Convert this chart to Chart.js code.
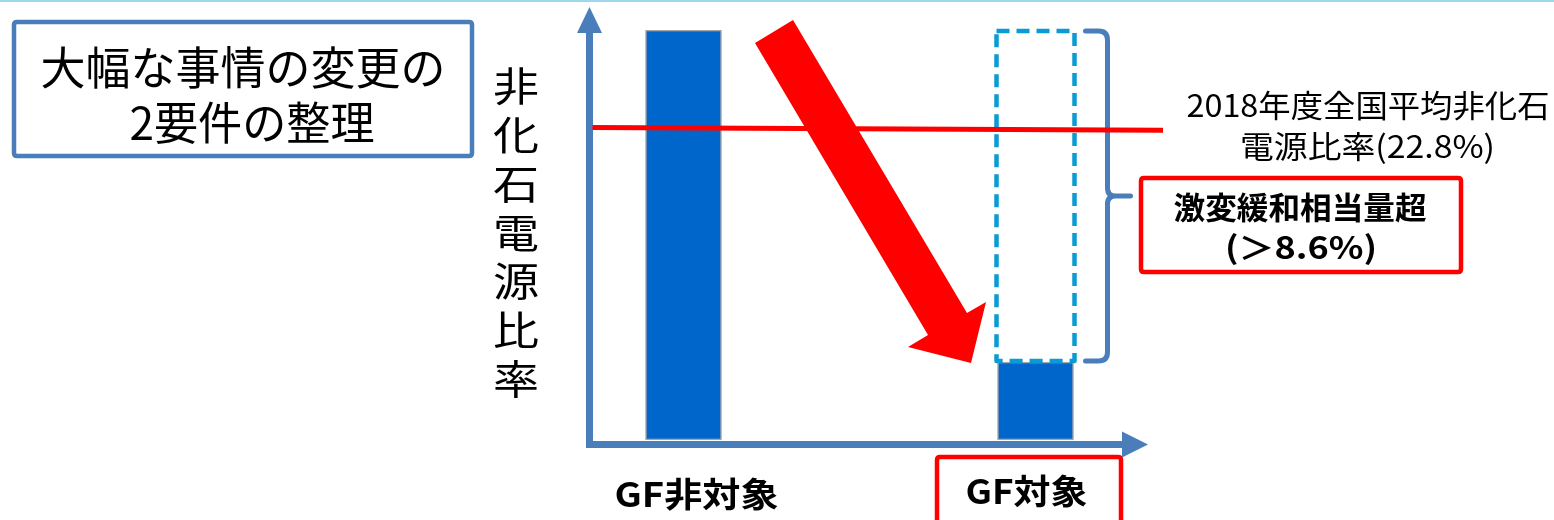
<!DOCTYPE html>
<html lang="ja">
<head>
<meta charset="utf-8">
<script src="https://cdn.jsdelivr.net/npm/chart.js@4.4.1/dist/chart.umd.min.js"></script>
<style>
  html, body { margin: 0; padding: 0; background: #ffffff; }
  #wrap { width: 1554px; height: 520px; position: relative; }
</style>
</head>
<body>
<div id="wrap"><canvas id="c" width="1554" height="520"></canvas></div>
<script>
// ---- data ----
const categories = ['GF非対象', 'GF対象'];
const ratioValues = [30, 5.7];            // solid bars (非化石電源比率, schematic)
const reliefRange = [null, [5.7, 30]];    // dashed "激変緩和相当量" segment
const nationalAverage = 22.8;             // 2018年度全国平均非化石電源比率 (%)
const reliefThreshold = 8.6;              // 激変緩和相当量超 (%)
const yMin = 0, yMax = 30;
const titleLines = ['大幅な事情の変更の', '2要件の整理'];
const yTitle = '非化石電源比率';
const avgLabel = ['2018年度全国平均非化石', '電源比率(' + nationalAverage + '%)'];
const reliefLabel = ['激変緩和相当量超', '(＞' + reliefThreshold + '%)'];

const JP = '"Noto Sans CJK JP", "Noto Sans", sans-serif';
const AXIS = '#4a7ebb';

function drawScaled(ctx, text, cx, cy, font, width, color) {
  ctx.save();
  ctx.font = font;
  ctx.fillStyle = color;
  ctx.textAlign = 'center';
  ctx.textBaseline = 'middle';
  const w = ctx.measureText(text).width;
  ctx.translate(cx, cy);
  ctx.scale(width / w, 1);
  ctx.fillText(text, 0, 0);
  ctx.restore();
}

function roundRect(ctx, x, y, w, h, r) {
  ctx.beginPath();
  ctx.moveTo(x + r, y);
  ctx.lineTo(x + w - r, y);
  ctx.quadraticCurveTo(x + w, y, x + w, y + r);
  ctx.lineTo(x + w, y + h - r);
  ctx.quadraticCurveTo(x + w, y + h, x + w - r, y + h);
  ctx.lineTo(x + r, y + h);
  ctx.quadraticCurveTo(x, y + h, x, y + h - r);
  ctx.lineTo(x, y + r);
  ctx.quadraticCurveTo(x, y, x + r, y);
  ctx.closePath();
}

const decor = {
  id: 'decor',
  beforeDraw(chart) {
    const ctx = chart.ctx;
    ctx.save();
    ctx.fillStyle = '#ffffff';
    ctx.fillRect(0, 0, chart.width, chart.height);
    ctx.fillStyle = '#9fd8ee';
    ctx.fillRect(0, 0, chart.width, 2);
    ctx.restore();
  },
  afterDatasetsDraw(chart) {
    const ctx = chart.ctx;
    const xs = chart.scales.x, ys = chart.scales.y;
    const zeroY = ys.getPixelForValue(0);
    const axisX = chart.chartArea.left + 82;

    ctx.save();
    // dashed relief segment
    const dMeta = chart.getDatasetMeta(1);
    dMeta.data.forEach((el, i) => {
      if (!reliefRange[i]) return;
      const p = el.getProps(['x', 'y', 'base', 'width'], true);
      const top = Math.min(p.y, p.base), bot = Math.max(p.y, p.base);
      ctx.strokeStyle = '#0a9bd5';
      ctx.lineWidth = 4.5;
      ctx.setLineDash([13, 7]);
      ctx.lineJoin = 'round';
      ctx.strokeRect(p.x - p.width / 2 - 1, top + 1, p.width + 2, bot - top - 2);
      ctx.setLineDash([]);

      // brace
      const bx = p.x + p.width / 2 + 34;
      const mid = ys.getPixelForValue((reliefRange[i][0] + reliefRange[i][1]) / 2);
      const r = 9;
      ctx.strokeStyle = AXIS;
      ctx.lineWidth = 5;
      ctx.lineCap = 'round';
      ctx.beginPath();
      ctx.moveTo(bx - 22, top + 1);
      ctx.lineTo(bx - r, top + 1);
      ctx.quadraticCurveTo(bx, top + 1, bx, top + 1 + r);
      ctx.lineTo(bx, mid - 8);
      ctx.quadraticCurveTo(bx, mid, bx + 8, mid);
      ctx.lineTo(bx + 23, mid);
      ctx.moveTo(bx + 8, mid);
      ctx.quadraticCurveTo(bx, mid, bx, mid + 8);
      ctx.lineTo(bx, bot - 1 - r);
      ctx.quadraticCurveTo(bx, bot - 1, bx - r, bot - 1);
      ctx.lineTo(bx - 22, bot - 1);
      ctx.stroke();
    });

    // axes with arrowheads
    ctx.fillStyle = AXIS;
    ctx.fillRect(axisX - 3.5, 30, 7, zeroY + 8 - 30);
    ctx.beginPath();
    ctx.moveTo(axisX, 7);
    ctx.lineTo(axisX + 12.5, 33);
    ctx.lineTo(axisX - 12.5, 33);
    ctx.closePath();
    ctx.fill();
    ctx.fillRect(axisX - 3.5, zeroY + 1, 1125 - axisX + 3.5, 7);
    ctx.beginPath();
    ctx.moveTo(1148, zeroY + 4.5);
    ctx.lineTo(1122, zeroY - 8.5);
    ctx.lineTo(1122, zeroY + 17.5);
    ctx.closePath();
    ctx.fill();

    // national-average line
    const avgY = ys.getPixelForValue(nationalAverage);
    ctx.strokeStyle = '#ff0000';
    ctx.lineWidth = 5;
    ctx.lineCap = 'butt';
    ctx.beginPath();
    ctx.moveTo(axisX + 3, avgY - 1);
    ctx.lineTo(1163, avgY + 1.8);
    ctx.stroke();

    // big red arrow
    ctx.fillStyle = '#ff0000';
    ctx.beginPath();
    ctx.moveTo(755, 43);
    ctx.lineTo(793, 20);
    ctx.lineTo(967, 313);
    ctx.lineTo(986, 302);
    ctx.lineTo(971, 363);
    ctx.lineTo(908, 347);
    ctx.lineTo(928, 335);
    ctx.closePath();
    ctx.fill();

    // title box
    ctx.strokeStyle = AXIS;
    ctx.lineWidth = 4.5;
    roundRect(ctx, 14, 22, 458, 134, 3);
    ctx.stroke();
    drawScaled(ctx, titleLines[0], 243, 68, '45px ' + JP, 405, '#000');
    drawScaled(ctx, titleLines[1], 252, 123, '45px ' + JP, 245, '#000');

    // vertical y-axis title
    [...yTitle].forEach((ch, i) => {
      drawScaled(ctx, ch, 516, 86 + i * 48.8, '40px ' + JP, 46, '#000');
    });

    // average label
    drawScaled(ctx, avgLabel[0], 1368, 105, '31px ' + JP, 363, '#000');
    drawScaled(ctx, avgLabel[1], 1367.5, 146, '31px ' + JP, 255, '#000');

    // relief box
    ctx.strokeStyle = '#ff0000';
    ctx.lineWidth = 4.5;
    roundRect(ctx, 1141, 178, 320, 94, 3);
    ctx.stroke();
    drawScaled(ctx, reliefLabel[0], 1300, 207, 'bold 31px ' + JP, 253, '#000');
    drawScaled(ctx, reliefLabel[1], 1301, 247, 'bold 31px ' + JP, 152, '#000');

    // category labels
    const c0 = xs.getPixelForValue(0), c1 = xs.getPixelForValue(1);
    drawScaled(ctx, categories[0], c0 + 13, 494, 'bold 34px ' + JP, 164, '#000');
    ctx.strokeStyle = '#ff0000';
    ctx.lineWidth = 4.5;
    roundRect(ctx, 937, 457, 184, 80, 3);
    ctx.stroke();
    drawScaled(ctx, categories[1], c1 - 9, 491, 'bold 34px ' + JP, 122, '#000');
    ctx.restore();
  }
};

new Chart(document.getElementById('c'), {
  type: 'bar',
  data: {
    labels: categories,
    datasets: [
      {
        data: ratioValues,
        backgroundColor: '#0066cc',
        borderColor: '#a6a6a6',
        borderWidth: 1.5,
        borderSkipped: false,
        barThickness: 76,
        grouped: false
      },
      {
        data: reliefRange,
        backgroundColor: 'rgba(0,0,0,0)',
        borderWidth: 0,
        barThickness: 76,
        grouped: false
      }
    ]
  },
  options: {
    responsive: false,
    animation: false,
    devicePixelRatio: 1,
    layout: { padding: { left: 507.5, right: 342.5, top: 30, bottom: 80 } },
    plugins: { legend: { display: false }, tooltip: { enabled: false } },
    scales: {
      x: { display: false, offset: true },
      y: { display: false, min: yMin, max: yMax }
    }
  },
  plugins: [decor]
});
</script>
</body>
</html>
